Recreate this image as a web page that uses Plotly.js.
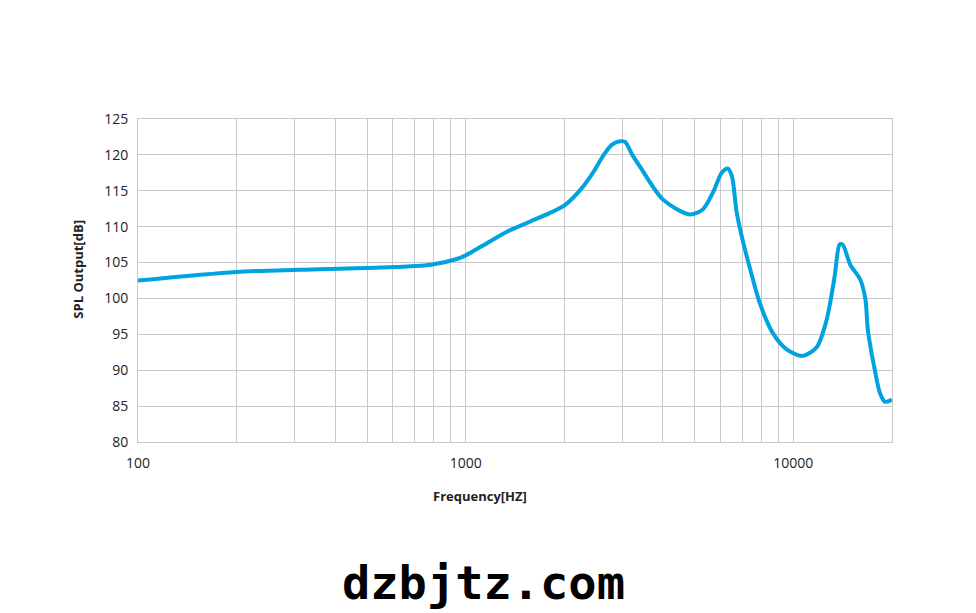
<!DOCTYPE html>
<html>
<head>
<meta charset="utf-8">
<script src="https://cdn.plot.ly/plotly-3.0.1.min.js"></script>
<style>html,body{margin:0;padding:0;background:#fff;}#chart{width:976px;height:613px;}</style>
</head>
<body>
<div id="chart"></div>
<script>
const freqHz = [100, 200, 312, 548, 783, 940, 1000, 1161, 1336, 1571, 1846, 2007, 2245, 2444, 2621, 2790, 2958, 3065, 3225, 3400, 3995, 4830, 5290, 5675, 6046, 6305, 6495, 6715, 7030, 7390, 7893, 8648, 9541, 10676, 11780, 12630, 13360, 13840, 14140, 14920, 16010, 16600, 16880, 17730, 18380, 19060, 20000];
const splDb = [102.5, 103.7, 104.0, 104.3, 104.7, 105.5, 106.0, 107.7, 109.3, 110.7, 112.1, 113.0, 115.2, 117.5, 119.8, 121.4, 121.9, 121.8, 120.0, 118.4, 113.8, 111.7, 112.4, 114.7, 117.5, 118.1, 117.0, 112.0, 107.8, 104.0, 99.4, 95.2, 92.9, 92.0, 93.2, 97.0, 103.0, 107.5, 107.5, 104.7, 102.6, 99.8, 95.6, 90.0, 86.8, 85.6, 85.9];
const xTickVals = [100,200,300,400,500,600,700,800,900,1000,2000,3000,4000,5000,6000,7000,8000,9000,10000,20000];
const xTickText = ["100","","","","","","","","","1000","","","","","","","","","10000",""];
const yTickVals = [80,85,90,95,100,105,110,115,120,125];
const xTitle = 'Frequency[HZ]';
const yTitle = 'SPL Output[dB]';
const watermark = 'dzbjtz.com';

const trace = {
  x: freqHz, y: splDb, type: 'scatter', mode: 'lines',
  line: {color: '#00a3e0', width: 4, shape: 'spline', smoothing: 0.8},
  hoverinfo: 'skip'
};
const titleFont = {size: 13, color: '#222', family: 'Open Sans, sans-serif', weight: 'bold'};
const layout = {
  width: 976, height: 613,
  margin: {l: 138, r: 84, t: 119, b: 171},
  paper_bgcolor: '#fff', plot_bgcolor: '#fff',
  showlegend: false,
  font: {family: 'Open Sans, Liberation Sans, sans-serif', color: '#222'},
  xaxis: {
    type: 'log', range: [2, Math.log10(20000)],
    tickvals: xTickVals, ticktext: xTickText,
    showgrid: true, gridcolor: '#c8c8c8', gridwidth: 1,
    showline: true, linecolor: '#c8c8c8', linewidth: 1, mirror: true,
    ticks: '', tickfont: {size: 14, color: '#222'}, ticklabelstandoff: 8,
    zeroline: false
  },
  yaxis: {
    range: [80, 125], tickvals: yTickVals,
    showgrid: true, gridcolor: '#c8c8c8', gridwidth: 1,
    showline: true, linecolor: '#c8c8c8', linewidth: 1, mirror: true,
    ticks: '', tickfont: {size: 14, color: '#222'}, ticklabelstandoff: 6,
    zeroline: false
  },
  annotations: [
    {text: xTitle, xref: 'paper', yref: 'paper', x: 0.454, y: -0.166,
     xanchor: 'center', yanchor: 'middle', showarrow: false, font: titleFont},
    {text: yTitle, xref: 'paper', yref: 'paper', x: -0.079, y: 0.535, textangle: -90,
     xanchor: 'center', yanchor: 'middle', showarrow: false, font: titleFont},
    {text: '<b>' + watermark + '</b>', xref: 'paper', yref: 'paper',
     x: 0.458, y: -0.435, xanchor: 'center', yanchor: 'middle', showarrow: false,
     font: {family: 'DejaVu Sans Mono, Liberation Mono, monospace', size: 47, color: '#000'}}
  ]
};
Plotly.newPlot('chart', [trace], layout, {staticPlot: true, displayModeBar: false});
</script>
</body>
</html>
